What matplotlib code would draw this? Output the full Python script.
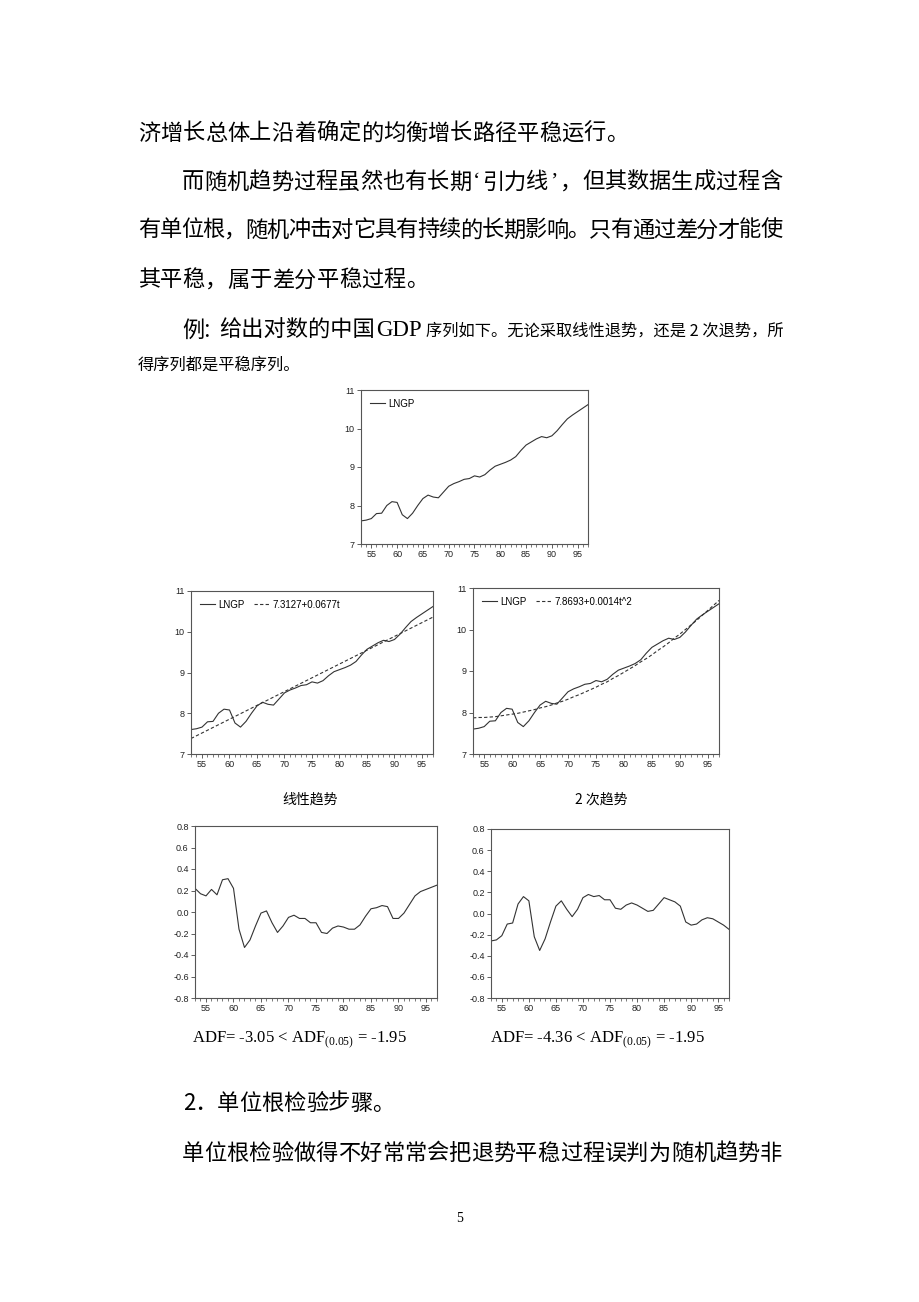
import numpy as np
import matplotlib.pyplot as plt
from matplotlib.ticker import MultipleLocator, FormatStrFormatter

plt.rcParams['font.family'] = ['Noto Sans CJK SC', 'DejaVu Sans']
plt.rcParams['mathtext.fontset'] = 'custom'
plt.rcParams['mathtext.rm'] = 'Liberation Serif'

years = list(range(53, 98))
lngp = [7.60, 7.62, 7.66, 7.79, 7.80, 8.00, 8.10, 8.08, 7.76, 7.66,
        7.80, 8.00, 8.18, 8.27, 8.22, 8.20, 8.35, 8.50, 8.57, 8.62,
        8.68, 8.70, 8.77, 8.74, 8.80, 8.92, 9.02, 9.07, 9.12, 9.18,
        9.27, 9.43, 9.57, 9.65, 9.73, 9.79, 9.76, 9.81, 9.94, 10.10,
        10.25, 10.35, 10.44, 10.53, 10.62]
lin_years = [53, 97]
lin_trend = [7.38, 10.36]
quad_trend = [7.87, 7.88, 7.88, 7.89, 7.90, 7.92, 7.94, 7.96, 7.98, 8.01,
              8.04, 8.07, 8.11, 8.14, 8.18, 8.23, 8.27, 8.32, 8.38, 8.43,
              8.49, 8.55, 8.61, 8.68, 8.74, 8.82, 8.89, 8.97, 9.05, 9.13,
              9.22, 9.30, 9.39, 9.49, 9.58, 9.68, 9.79, 9.89, 10.00, 10.11,
              10.22, 10.34, 10.46, 10.58, 10.70]
resid_lin = [0.22, 0.17, 0.15, 0.21, 0.16, 0.30, 0.31, 0.22, -0.16, -0.33,
             -0.26, -0.13, -0.01, 0.01, -0.10, -0.19, -0.13, -0.05, -0.03, -0.06,
             -0.06, -0.10, -0.10, -0.19, -0.20, -0.15, -0.13, -0.14, -0.16, -0.16,
             -0.12, -0.04, 0.03, 0.04, 0.06, 0.05, -0.06, -0.06, -0.01, 0.07,
             0.15, 0.19, 0.21, 0.23, 0.25]
resid_quad = [-0.26, -0.25, -0.21, -0.10, -0.09, 0.09, 0.16, 0.12, -0.22, -0.35,
              -0.24, -0.08, 0.07, 0.12, 0.04, -0.03, 0.04, 0.15, 0.18, 0.16,
              0.17, 0.13, 0.13, 0.05, 0.04, 0.08, 0.10, 0.08, 0.05, 0.02,
              0.03, 0.09, 0.15, 0.13, 0.11, 0.07, -0.08, -0.11, -0.10, -0.06,
              -0.04, -0.05, -0.08, -0.11, -0.15]

W, H = 920, 1302
fig = plt.figure(figsize=(W / 100, H / 100), dpi=100)
fig.patch.set_facecolor('white')


def box(l, r, t, b):
    return [l / W, 1 - b / H, (r - l) / W, (b - t) / H]


def style(ax, ylo, yhi, ystep, fmt):
    ax.set_xlim(53, 97)
    ax.set_ylim(ylo, yhi)
    ax.xaxis.set_minor_locator(MultipleLocator(1))
    ax.set_xticks(range(55, 97, 5))
    ax.yaxis.set_major_locator(MultipleLocator(ystep))
    ax.yaxis.set_major_formatter(FormatStrFormatter(fmt))
    ax.tick_params(which='major', direction='out', length=3, width=0.6,
                   labelsize=6.5, pad=1.5, color='#444444', labelcolor='#222222')
    ax.tick_params(which='minor', direction='out', length=2, width=0.5,
                   color='#444444')
    ax.yaxis.set_minor_locator(plt.NullLocator())
    for lab in ax.get_xticklabels() + ax.get_yticklabels():
        lab.set_family('Liberation Sans')
    for s in ax.spines.values():
        s.set_color('#555555')
        s.set_linewidth(0.8)


line_kw = dict(color='#333333', lw=0.8)
dash_kw = dict(color='#333333', lw=0.8, ls=(0, (3, 2)))
leg_kw = dict(loc='upper left', frameon=False,
              prop={'family': 'Liberation Sans', 'size': 7},
              handlelength=1.6, handletextpad=0.3, columnspacing=1.0,
              borderaxespad=0.5)

ax1 = fig.add_axes(box(361, 588, 390, 544))
ax1.plot(years, lngp, label='LNGP', **line_kw)
style(ax1, 7, 11, 1, '%d')
ax1.legend(**leg_kw)

ax2 = fig.add_axes(box(191, 433, 591, 754))
ax2.plot(years, lngp, label='LNGP', **line_kw)
ax2.plot(lin_years, lin_trend, label='7.3127+0.0677t', **dash_kw)
style(ax2, 7, 11, 1, '%d')
ax2.legend(ncol=2, **leg_kw)

ax3 = fig.add_axes(box(473, 719, 588, 754))
ax3.plot(years, lngp, label='LNGP', **line_kw)
ax3.plot(years, quad_trend, label='7.8693+0.0014t^2', **dash_kw)
style(ax3, 7, 11, 1, '%d')
ax3.legend(ncol=2, **leg_kw)

ax4 = fig.add_axes(box(195, 437, 826, 998))
ax4.plot(years, resid_lin, **line_kw)
style(ax4, -0.8, 0.8, 0.2, '%.1f')

ax5 = fig.add_axes(box(491, 729, 829, 998))
ax5.plot(years, resid_quad, **line_kw)
style(ax5, -0.8, 0.8, 0.2, '%.1f')


def txt(x, y, s, size=16, **kw):
    fig.text(x / W, 1 - y / H, s, fontsize=size, va='center', ha=kw.pop('ha', 'left'), **kw)


def spread(x0, x1, y, s, size=16):
    # place characters one by one so the line fills x0..x1 like justified text
    units = [0.5 if c in '‘’' else 1.0 for c in s]
    pitch = (x1 - x0) / sum(units)
    x = x0
    for c, u in zip(s, units):
        w = u * pitch
        if c in '‘’':
            txt(x + w / 2, y, c, size, ha='center', family='Liberation Serif')
        else:
            txt(x, y, c, size)
        x += w


spread(138, 628, 133, '济增长总体上沿着确定的均衡增长路径平稳运行。')
spread(182, 782, 182, '而随机趋势过程虽然也有长期‘引力线’，但其数据生成过程含')
spread(138, 782, 230, '有单位根，随机冲击对它具有持续的长期影响。只有通过差分才能使')
spread(138, 428, 280, '其平稳，属于差分平稳过程。')
txt(182, 330, '例:')
txt(219, 330, '给出对数的中国')
txt(376, 330, 'GDP', family='Liberation Serif', size=16.5)
txt(426, 331, '序列如下。无论采取线性退势，还是 2 次退势，所', size=11.7)
txt(138, 365, '得序列都是平稳序列。', size=11.7)
txt(310, 800, '线性趋势', size=10, ha='center')
txt(601, 800, '2 次趋势', size=10, ha='center')
txt(192, 1040, r'ADF= -3.05 < ADF$_{(0.05)}$ = -1.95', size=12, family='Liberation Serif')
txt(490, 1040, r'ADF= -4.36 < ADF$_{(0.05)}$ = -1.95', size=12, family='Liberation Serif')
txt(183, 1103, '2．')
spread(217, 217 + 8 * 22.2, 1103, '单位根检验步骤。')
spread(182, 782, 1153, '单位根检验做得不好常常会把退势平稳过程误判为随机趋势非')
txt(460, 1218, '5', size=10, family='Liberation Serif', ha='center')

fig.savefig('out.png', dpi=100)
